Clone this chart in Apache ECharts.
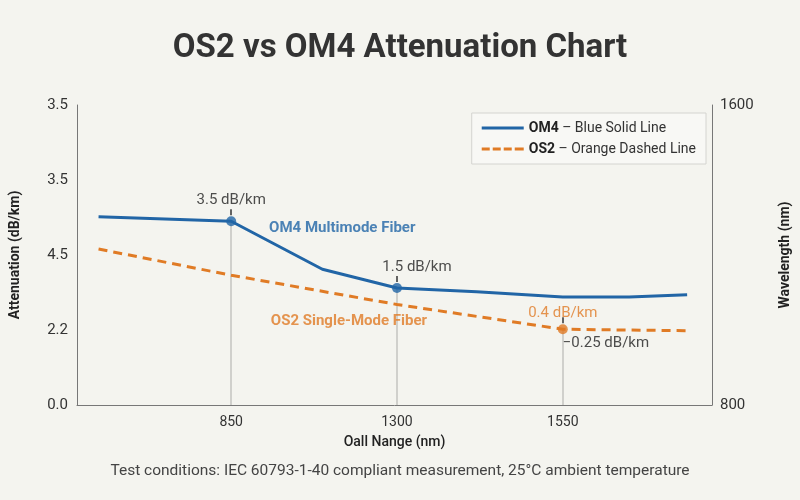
<!DOCTYPE html>
<html>
<head>
<meta charset="UTF-8">
<title>OS2 vs OM4</title>
<script src="https://cdn.jsdelivr.net/npm/echarts@6/dist/echarts.min.js"></script>
<style>
  html, body { margin: 0; padding: 0; background: #f4f4ef; }
  #main { width: 800px; height: 500px; }
</style>
</head>
<body>
<div id="main"></div>
<script>
// x positions are slots on the axis (1 = 850, 2 = 1300, 3 = 1550)
var xTickPos = [1, 2, 3];
var xTickLabels = ['850', '1300', '1550'];
var yLeftLabels = ['0.0', '2.2', '4.5', '3.5', '3.5'];

var om4Data = [[0.2, 2.51], [1, 2.45], [1.55, 1.81], [2, 1.56], [2.48, 1.51], [3, 1.44], [3.4, 1.44], [3.75, 1.47]];
var os2Data = [[0.2, 2.08], [1, 1.73], [2, 1.34], [3, 1.01], [3.75, 0.99]];

var om4Points = [[1, 2.45], [2, 1.56]];
var om4PointLabels = ['3.5 dB/km', '1.5 dB/km'];
var os2Points = [[3, 1.01]];
var os2PointLabels = ['0.4 dB/km'];
var os2LowLabel = '\u22120.25 dB/km';

var blue = '#2165a6';
var orange = '#e07b25';
var font = 'Roboto';

// legend icons: a plain bar and a dashed bar
var solidIcon = 'path://M0,0h42v3h-42z';
var dashIcon = 'path://M0,0h8v3h-8z M11,0h8v3h-8z M22,0h8v3h-8z M33,0h9v3h-9z';

var chart = echarts.init(document.getElementById('main'));

var dropLines = om4Points.concat(os2Points).map(function (p) {
    return [{ coord: [p[0], p[1]] }, { coord: [p[0], 0] }];
});
var tickLines = om4Points.concat(os2Points).map(function (p) {
    return [{ coord: [p[0], p[1] + 0.08] }, { coord: [p[0], p[1] + 0.16] }];
});

chart.setOption({
    backgroundColor: '#f4f4ef',
    textStyle: { fontFamily: font },
    title: [{
        text: 'OS2 vs OM4 Attenuation Chart',
        left: 'center',
        top: 27,
        textStyle: { fontSize: 33, fontWeight: 'bold', color: '#333', fontFamily: font }
    }, {
        text: 'Test conditions: IEC 60793-1-40 compliant measurement, 25\u00b0C ambient temperature',
        left: 'center',
        top: 458,
        textStyle: { fontSize: 15.5, fontWeight: 'normal', color: '#444', fontFamily: font }
    }],
    legend: {
        data: [
            { name: 'OM4', icon: solidIcon },
            { name: 'OS2', icon: dashIcon }
        ],
        orient: 'vertical',
        right: 94,
        top: 113,
        padding: [8, 10, 8, 10],
        itemGap: 7,
        itemWidth: 42,
        itemHeight: 3,
        borderColor: '#d4d4d0',
        borderWidth: 1,
        backgroundColor: '#f8f8f5',
        textStyle: {
            fontSize: 14,
            color: '#333',
            rich: { b: { fontWeight: 'bold', fontSize: 14, color: '#222' } }
        },
        formatter: function (name) {
            return name === 'OM4'
                ? '{b|OM4} \u2013 Blue Solid Line'
                : '{b|OS2} \u2013 Orange Dashed Line';
        }
    },
    grid: { left: 77, right: 84, top: 105, bottom: 95 },
    xAxis: {
        type: 'value',
        min: 0.07,
        max: 3.9,
        name: 'Oall Nange (nm)',
        nameLocation: 'middle',
        nameGap: 30,
        nameTextStyle: { fontSize: 14, fontWeight: 500, color: '#222' },
        axisLine: { show: true, lineStyle: { color: '#777' } },
        axisTick: { show: false },
        splitLine: { show: false },
        axisLabel: {
            customValues: xTickPos,
            fontSize: 14,
            color: '#333',
            margin: 10,
            formatter: function (v) {
                return xTickLabels[xTickPos.indexOf(Math.round(v))];
            }
        }
    },
    yAxis: [{
        type: 'value',
        min: 0,
        max: 4,
        interval: 1,
        name: 'Attenuation (dB/km)',
        nameLocation: 'middle',
        nameRotate: 90,
        nameGap: 55,
        nameTextStyle: { fontSize: 14, fontWeight: 'bold', color: '#222' },
        axisLine: { show: true, lineStyle: { color: '#777' } },
        axisTick: { show: false },
        splitLine: { show: false },
        axisLabel: {
            fontSize: 15,
            color: '#333',
            margin: 9,
            formatter: function (v) { return yLeftLabels[Math.round(v)]; }
        }
    }, {
        type: 'value',
        min: 800,
        max: 1600,
        interval: 800,
        position: 'right',
        name: 'Wavelength (nm)',
        nameLocation: 'middle',
        nameRotate: 90,
        nameGap: 66,
        nameTextStyle: { fontSize: 14, fontWeight: 'bold', color: '#222' },
        axisLine: { show: true, lineStyle: { color: '#777' } },
        axisTick: { show: false },
        splitLine: { show: false },
        axisLabel: {
            fontSize: 15,
            color: '#333',
            margin: 8,
            formatter: function (v) { return String(v); }
        }
    }],
    series: [{
        name: 'OM4',
        type: 'line',
        data: om4Data,
        symbol: 'none',
        color: blue,
        lineStyle: { color: blue, width: 3 },
        z: 3
    }, {
        name: 'OS2',
        type: 'line',
        data: os2Data,
        symbol: 'none',
        color: orange,
        lineStyle: { color: orange, width: 3, type: [9, 6] },
        z: 3,
        markLine: {
            silent: true,
            symbol: 'none',
            label: { show: false },
            lineStyle: { color: '#c4c4c0', width: 1.5, type: 'solid' },
            data: dropLines,
            z: 1
        }
    }, {
        name: 'ticks',
        type: 'line',
        data: [],
        markLine: {
            silent: true,
            symbol: 'none',
            label: { show: false },
            lineStyle: { color: '#333', width: 1.5, type: 'solid' },
            data: tickLines
        }
    }, {
        name: 'om4pts',
        type: 'scatter',
        symbolSize: 10,
        itemStyle: { color: blue },
        z: 5,
        data: om4Points.map(function (p, i) {
            return {
                value: p,
                label: {
                    show: true,
                    formatter: om4PointLabels[i],
                    position: 'top',
                    distance: i === 1 ? 8 : 9,
                    offset: i === 1 ? [20, 0] : [0, 0],
                    fontSize: 15,
                    color: '#222'
                }
            };
        })
    }, {
        name: 'os2pts',
        type: 'scatter',
        symbolSize: 10,
        itemStyle: { color: orange },
        z: 5,
        data: os2Points.map(function (p, i) {
            return {
                value: p,
                label: {
                    show: true,
                    formatter: os2PointLabels[i],
                    position: 'top',
                    distance: 4,
                    fontSize: 15,
                    color: orange
                }
            };
        })
    }, {
        name: 'notes',
        type: 'scatter',
        symbolSize: 0,
        silent: true,
        z: 6,
        data: [{
            value: os2Points[0],
            label: {
                show: true, formatter: os2LowLabel, position: 'right',
                offset: [-5, 14], fontSize: 15, color: '#222'
            }
        }, {
            value: [1.67, 2.36],
            label: {
                show: true, formatter: 'OM4 Multimode Fiber', position: 'inside',
                fontSize: 15, fontWeight: 'bold', color: blue
            }
        }, {
            value: [1.71, 1.12],
            label: {
                show: true, formatter: 'OS2 Single-Mode Fiber', position: 'inside',
                fontSize: 15, fontWeight: 'bold', color: orange
            }
        }]
    }]
});
</script>
</body>
</html>
